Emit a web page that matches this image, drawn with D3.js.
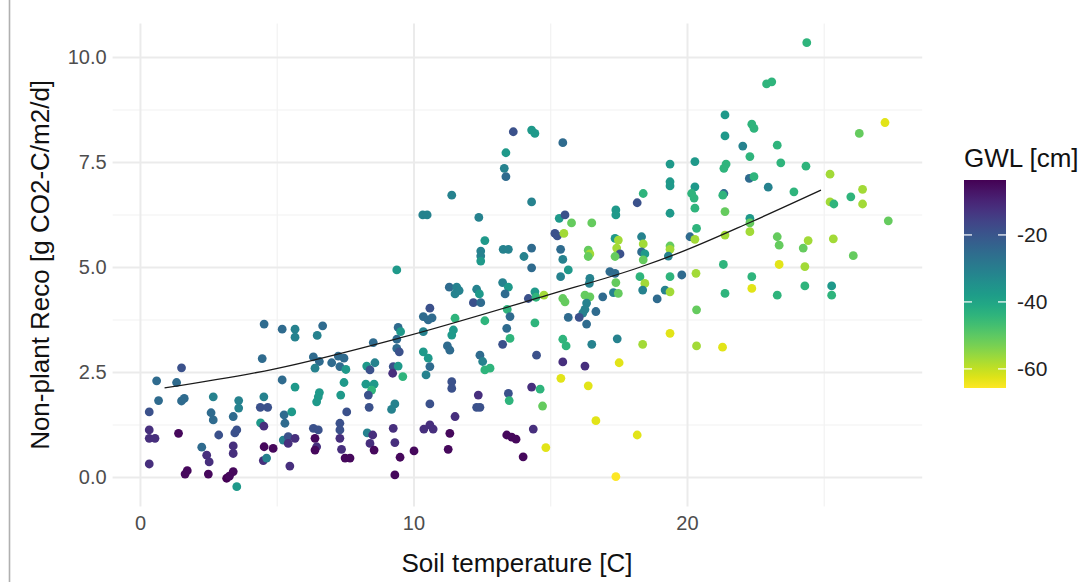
<!DOCTYPE html>
<html>
<head>
<meta charset="utf-8">
<script src="https://cdn.jsdelivr.net/npm/d3@7"></script>
<style>
  html, body { margin: 0; padding: 0; background: #ffffff; }
  svg { display: block; }
  text { font-family: "Liberation Sans", Arial, sans-serif; }
</style>
</head>
<body>
<svg id="chart" width="1089" height="582"></svg>
<script>
// Soil temperature [C] of each measurement
const soilTemp = [
  4.54,4.47,1.52,0.61,1.34,0.68,1.52,1.62,2.68,3.61,3.61,4.53,4.40,4.67,0.34,2.60,2.68,3.41,4.41,4.53,
  0.34,0.34,0.55,1.41,2.88,3.54,3.47,2.26,2.44,2.53,3.41,3.41,4.54,4.87,4.51,4.63,0.34,1.73,1.65,2.50,
  3.17,3.41,3.27,3.54,
  9.39,5.20,5.67,5.67,6.68,6.48,9.44,9.53,8.53,9.39,9.39,9.48,6.34,6.56,6.40,7.01,7.25,7.46,7.31,7.53,
  8.29,8.59,8.41,9.26,9.44,9.61,9.24,5.20,5.67,6.56,6.52,6.46,7.46,7.34,8.26,8.56,8.47,8.35,7.56,8.38,
  9.32,9.20,5.27,5.30,5.55,6.34,6.52,7.31,7.31,8.31,8.51,9.26,5.24,5.42,5.67,5.42,6.40,6.46,6.40,7.31,
  7.37,7.50,7.68,8.41,8.56,9.32,9.51,10.02,5.48,9.32,
  13.38,13.32,13.38,11.40,14.32,10.34,10.50,12.39,12.61,12.46,12.46,12.46,13.28,13.47,14.32,14.04,14.32,11.31,11.58,11.52,
  11.67,12.31,12.41,12.19,12.46,13.26,13.47,13.35,14.20,14.44,14.48,14.77,10.60,10.36,10.54,10.68,11.52,11.46,11.40,12.61,
  13.43,13.53,14.44,10.36,13.41,13.53,13.26,10.36,10.54,10.60,11.24,11.33,12.43,12.53,12.61,12.80,14.50,10.46,11.40,11.40,
  12.37,12.31,12.43,13.47,13.50,14.32,14.63,14.72,10.60,11.52,10.60,10.72,10.38,11.33,11.27,13.41,13.59,13.75,14.38,14.01,
  14.84,13.65,14.32,14.44,
  15.46,19.38,20.29,19.38,19.38,18.18,18.40,20.29,20.17,20.26,20.29,17.40,17.40,19.38,15.33,15.54,15.78,16.52,15.17,15.26,
  15.50,20.35,15.38,15.46,16.39,16.45,16.39,17.37,17.49,17.43,17.55,17.37,18.34,18.40,18.34,18.46,18.40,19.38,19.38,19.32,
  20.11,20.29,15.66,15.38,16.45,16.43,17.18,17.37,17.40,17.31,17.49,18.28,18.46,18.38,19.38,19.81,20.33,15.46,15.54,16.27,
  16.45,16.33,16.27,16.92,16.19,16.06,15.66,16.67,16.33,18.91,19.20,19.38,20.35,15.46,15.58,16.52,17.45,18.38,19.38,20.35,
  15.46,16.27,17.52,15.39,16.39,16.67,18.18,17.40,
  24.38,22.91,23.10,21.39,21.39,22.37,22.45,22.04,23.30,22.30,21.43,21.35,23.43,24.35,25.23,22.28,22.45,22.97,21.35,21.31,
  23.91,25.23,25.37,21.39,22.30,22.30,22.30,21.39,23.30,23.37,24.43,24.25,25.35,21.33,22.37,22.37,23.37,24.31,21.39,23.30,
  24.31,25.29,25.29,21.30,
  27.24,26.30,26.42,26.42,25.99,27.36,26.08
];

// Non-plant ecosystem respiration [g CO2-C/m2/d]
const reco = [
  3.64,2.82,2.60,2.29,2.25,1.82,1.81,1.87,1.91,1.82,1.64,1.91,1.66,1.66,1.55,1.53,1.36,1.44,1.29,1.21,
  1.12,0.92,0.92,1.04,1.00,1.12,1.05,0.71,0.52,0.36,0.74,0.56,0.72,0.68,0.39,0.45,0.31,0.15,0.07,0.07,
  -0.03,0.13,0.02,-0.23,
  4.93,3.52,3.52,3.33,3.60,3.37,3.56,3.46,3.20,3.28,3.06,2.98,2.86,2.75,2.59,2.72,2.88,2.83,2.63,2.56,
  2.64,2.72,2.55,2.63,2.64,2.39,2.47,2.31,2.14,2.01,1.91,1.79,2.25,1.95,2.21,2.21,2.07,1.95,1.55,1.66,
  1.74,1.61,1.48,1.28,1.55,1.16,1.12,1.28,1.12,1.05,1.00,1.16,0.88,0.96,0.92,0.80,0.92,0.72,0.64,0.92,
  0.66,0.45,0.45,0.80,0.64,0.82,0.47,0.62,0.26,0.05,
  7.72,7.35,7.15,6.71,6.55,6.24,6.24,6.18,5.63,5.38,5.26,5.14,5.42,5.42,5.45,5.25,4.98,4.52,4.52,4.36,
  4.44,4.47,4.36,4.15,4.15,4.63,4.52,4.36,4.25,4.41,4.28,4.33,4.02,3.82,3.74,3.79,3.78,3.50,3.38,3.72,
  3.99,3.82,3.67,3.46,3.54,3.30,3.16,2.98,2.83,2.63,3.12,3.02,2.90,2.75,2.55,2.59,2.90,2.43,2.27,2.11,
  1.95,1.66,1.66,1.99,1.82,2.14,2.09,1.69,1.74,1.44,1.24,1.14,1.14,1.04,0.66,1.00,0.95,0.90,1.14,0.48,
  0.70,8.22,8.26,8.18,
  7.96,7.45,7.51,7.03,6.93,6.53,6.75,6.91,6.75,6.64,6.40,6.36,6.24,6.28,6.16,6.24,6.05,6.05,5.80,5.74,
  5.80,5.92,5.42,5.18,5.40,5.31,5.25,5.68,5.64,5.45,5.31,5.25,5.72,5.55,5.36,5.31,5.17,5.50,5.42,5.26,
  5.72,5.66,4.93,4.77,4.73,4.61,4.89,4.85,4.63,4.39,4.37,4.77,4.61,4.45,4.77,4.81,4.85,4.25,4.17,4.33,
  4.29,4.14,3.99,4.29,3.90,3.80,3.80,3.94,3.64,4.24,4.45,4.41,3.98,3.28,3.12,3.16,3.29,3.16,3.42,3.12,
  2.74,2.64,2.72,2.35,2.17,1.34,1.00,0.01,
  10.34,9.36,9.41,8.62,8.12,8.40,8.30,7.88,7.90,7.63,7.45,7.35,7.48,7.40,7.21,7.11,7.15,6.90,6.75,6.71,
  6.79,6.55,6.50,6.32,6.16,6.05,5.84,5.76,5.72,5.52,5.63,5.45,5.67,5.06,4.77,4.49,5.06,5.01,4.37,4.33,
  4.55,4.55,4.33,3.09,
  8.44,8.18,6.85,6.50,6.67,6.10,5.27
];

// Groundwater level [cm] at each measurement
const gwl = [
  -25,-25,-19,-25,-25,-25,-25,-25,-31,-31,-31,-31,-19,-19,-19,-25,-25,-25,-37,-12,
  -12,-12,-12,-5,-19,-19,-19,-25,-12,-12,-12,-12,-5,-5,-12,-31,-12,-5,-5,-5,
  -3.6,-5,-5,-37,
  -37,-25,-31,-31,-25,-31,-25,-37,-25,-25,-25,-19,-25,-25,-31,-25,-25,-25,-25,-37,
  -37,-31,-19,-19,-37,-44,-12,-25,-37,-37,-37,-37,-37,-37,-37,-37,-44,-19,-19,-19,
  -31,-31,-25,-25,-37,-19,-19,-19,-19,-31,-12,-12,-31,-19,-12,-12,-5,-12,-5,-12,
  -12,-5,-5,-12,-5,-12,-5,-5,-12,-5,
  -37,-31,-25,-31,-31,-31,-31,-31,-37,-31,-31,-37,-31,-31,-25,-31,-25,-25,-31,-31,
  -31,-31,-37,-19,-25,-31,-37,-25,-19,-37,-44,-57,-19,-25,-25,-25,-44,-37,-37,-44,
  -44,-25,-44,-31,-25,-44,-19,-37,-37,-25,-25,-25,-25,-31,-44,-44,-19,-31,-19,-19,
  -12,-19,-19,-19,-44,-12,-44,-51,-19,-12,-12,-12,-12,-5,-5,-5,-5,-5,-12,-5,
  -63,-19,-37,-37,
  -25,-37,-37,-37,-37,-19,-44,-37,-44,-44,-44,-37,-37,-37,-37,-19,-51,-51,-19,-19,
  -57,-44,-25,-31,-51,-57,-51,-37,-57,-57,-19,-51,-31,-57,-25,-37,-51,-51,-57,-31,
  -25,-57,-37,-31,-31,-31,-25,-25,-51,-31,-51,-44,-57,-31,-44,-25,-57,-51,-51,-51,
  -51,-31,-31,-25,-31,-19,-25,-25,-25,-25,-31,-57,-51,-44,-44,-31,-31,-57,-63,-57,
  -12,-12,-63,-63,-63,-63,-63,-65.7,
  -44,-44,-44,-37,-37,-44,-44,-31,-44,-44,-44,-44,-44,-44,-57,-25,-44,-31,-25,-44,
  -44,-57,-44,-51,-37,-51,-57,-57,-51,-51,-57,-51,-57,-44,-44,-63,-63,-57,-44,-44,
  -44,-37,-44,-63,
  -63,-51,-57,-57,-44,-51,-51
];

// Fitted temperature response curve
const fitTemp = [0.9, 4.9, 9.5, 14.9, 18.3, 19.8, 22.3, 24.9];
const fitReco = [2.12, 2.57, 3.31, 4.33, 5.0, 5.36, 6.06, 6.83];

// Axis breaks
const xMajor = [0, 10, 20];
const xMinor = [5, 15, 25];
const yMajor = [0, 2.5, 5, 7.5, 10];
const yMinor = [1.25, 3.75, 6.25, 8.75];
const legendTicks = [-20, -40, -60];

const svg = d3.select("#chart");
const panel = { left: 112.6, right: 922.2, top: 23.4, bottom: 506.4 };

const x = d3.scaleLinear().domain([-1.0, 28.6]).range([panel.left, panel.right]);
const y = d3.scaleLinear().domain([-0.7, 10.8]).range([panel.bottom, panel.top]);

const gwlExtent = d3.extent(gwl);
const colour = d3.scaleSequential(t => d3.interpolateViridis(1 - t))
  .domain(gwlExtent);

// thin frame line on the far left edge
svg.append("line")
  .attr("x1", 9.5).attr("x2", 9.5).attr("y1", 0).attr("y2", 582)
  .attr("stroke", "#b0b0b0").attr("stroke-width", 1.6);

// grid: minor lines first, then major
const grid = svg.append("g");
grid.append("g")
  .attr("transform", `translate(0,${panel.bottom})`)
  .call(d3.axisBottom(x).tickValues(xMinor).tickSize(-(panel.bottom - panel.top)).tickFormat(""))
  .call(g => g.select(".domain").remove())
  .call(g => g.selectAll("line").attr("stroke", "#f2f2f2").attr("stroke-width", 1.2));
grid.append("g")
  .attr("transform", `translate(${panel.left},0)`)
  .call(d3.axisLeft(y).tickValues(yMinor).tickSize(-(panel.right - panel.left)).tickFormat(""))
  .call(g => g.select(".domain").remove())
  .call(g => g.selectAll("line").attr("stroke", "#f2f2f2").attr("stroke-width", 1.2));
grid.append("g")
  .attr("transform", `translate(0,${panel.bottom})`)
  .call(d3.axisBottom(x).tickValues(xMajor).tickSize(-(panel.bottom - panel.top)).tickFormat(""))
  .call(g => g.select(".domain").remove())
  .call(g => g.selectAll("line").attr("stroke", "#ebebeb").attr("stroke-width", 2));
grid.append("g")
  .attr("transform", `translate(${panel.left},0)`)
  .call(d3.axisLeft(y).tickValues(yMajor).tickSize(-(panel.right - panel.left)).tickFormat(""))
  .call(g => g.select(".domain").remove())
  .call(g => g.selectAll("line").attr("stroke", "#ebebeb").attr("stroke-width", 2));

// points
const pts = soilTemp.map((t, i) => ({ t, r: reco[i], g: gwl[i] }));
svg.append("g")
  .selectAll("circle")
  .data(pts)
  .join("circle")
  .attr("cx", d => x(d.t))
  .attr("cy", d => y(d.r))
  .attr("r", 4.4)
  .attr("fill", d => colour(d.g));

// fitted curve
const fit = fitTemp.map((t, i) => [t, fitReco[i]]);
svg.append("path")
  .datum(fit)
  .attr("fill", "none")
  .attr("stroke", "#1a1a1a")
  .attr("stroke-width", 1.3)
  .attr("d", d3.line().x(d => x(d[0])).y(d => y(d[1])).curve(d3.curveMonotoneX));

// axis tick labels
svg.append("g")
  .attr("transform", `translate(0,${panel.bottom})`)
  .call(d3.axisBottom(x).tickValues(xMajor).tickSize(0).tickPadding(9).tickFormat(d3.format("d")))
  .call(g => g.select(".domain").remove())
  .call(g => g.selectAll("text").attr("font-size", 20).attr("fill", "#4d4d4d")
    .style("font-family", "'Liberation Sans', Arial, sans-serif"));
svg.append("g")
  .attr("transform", `translate(${panel.left},0)`)
  .call(d3.axisLeft(y).tickValues(yMajor).tickSize(0).tickPadding(6).tickFormat(d3.format(".1f")))
  .call(g => g.select(".domain").remove())
  .call(g => g.selectAll("text").attr("font-size", 20).attr("fill", "#4d4d4d")
    .style("font-family", "'Liberation Sans', Arial, sans-serif"));

// axis titles
svg.append("text")
  .attr("x", 517)
  .attr("y", 572)
  .attr("text-anchor", "middle")
  .attr("font-size", 26)
  .attr("fill", "#111")
  .text("Soil temperature [C]");
svg.append("text")
  .attr("transform", `translate(49,${(panel.top + panel.bottom) / 2}) rotate(-90)`)
  .attr("text-anchor", "middle")
  .attr("font-size", 26)
  .attr("fill", "#111")
  .text("Non-plant Reco [g CO2-C/m2/d]");

// colour bar legend
const bar = { x: 964, y: 180, w: 42, h: 208 };
const legY = d3.scaleLinear().domain([gwlExtent[1], gwlExtent[0]]).range([bar.y, bar.y + bar.h]);

const defs = svg.append("defs");
const grad = defs.append("linearGradient")
  .attr("id", "gwlGradient")
  .attr("x1", 0).attr("x2", 0).attr("y1", 0).attr("y2", 1);
d3.range(0, 1.0001, 0.05).forEach(s => {
  const v = gwlExtent[1] + s * (gwlExtent[0] - gwlExtent[1]);
  grad.append("stop").attr("offset", s).attr("stop-color", colour(v));
});

svg.append("text")
  .attr("x", bar.x)
  .attr("y", 167)
  .attr("font-size", 26)
  .attr("fill", "#111")
  .text("GWL [cm]");

svg.append("rect")
  .attr("x", bar.x).attr("y", bar.y)
  .attr("width", bar.w).attr("height", bar.h)
  .attr("fill", "url(#gwlGradient)");

const legTicks = svg.append("g");
legendTicks.forEach(v => {
  const ty = legY(v);
  legTicks.append("line")
    .attr("x1", bar.x).attr("x2", bar.x + 8).attr("y1", ty).attr("y2", ty)
    .attr("stroke", "#fff").attr("stroke-width", 1.2);
  legTicks.append("line")
    .attr("x1", bar.x + bar.w - 8).attr("x2", bar.x + bar.w).attr("y1", ty).attr("y2", ty)
    .attr("stroke", "#fff").attr("stroke-width", 1.2);
  legTicks.append("text")
    .attr("x", bar.x + bar.w + 11)
    .attr("y", ty)
    .attr("dy", "0.35em")
    .attr("font-size", 21)
    .attr("fill", "#222")
    .text(d3.format("d")(v).replace("−", "-"));
});
</script>
</body>
</html>
